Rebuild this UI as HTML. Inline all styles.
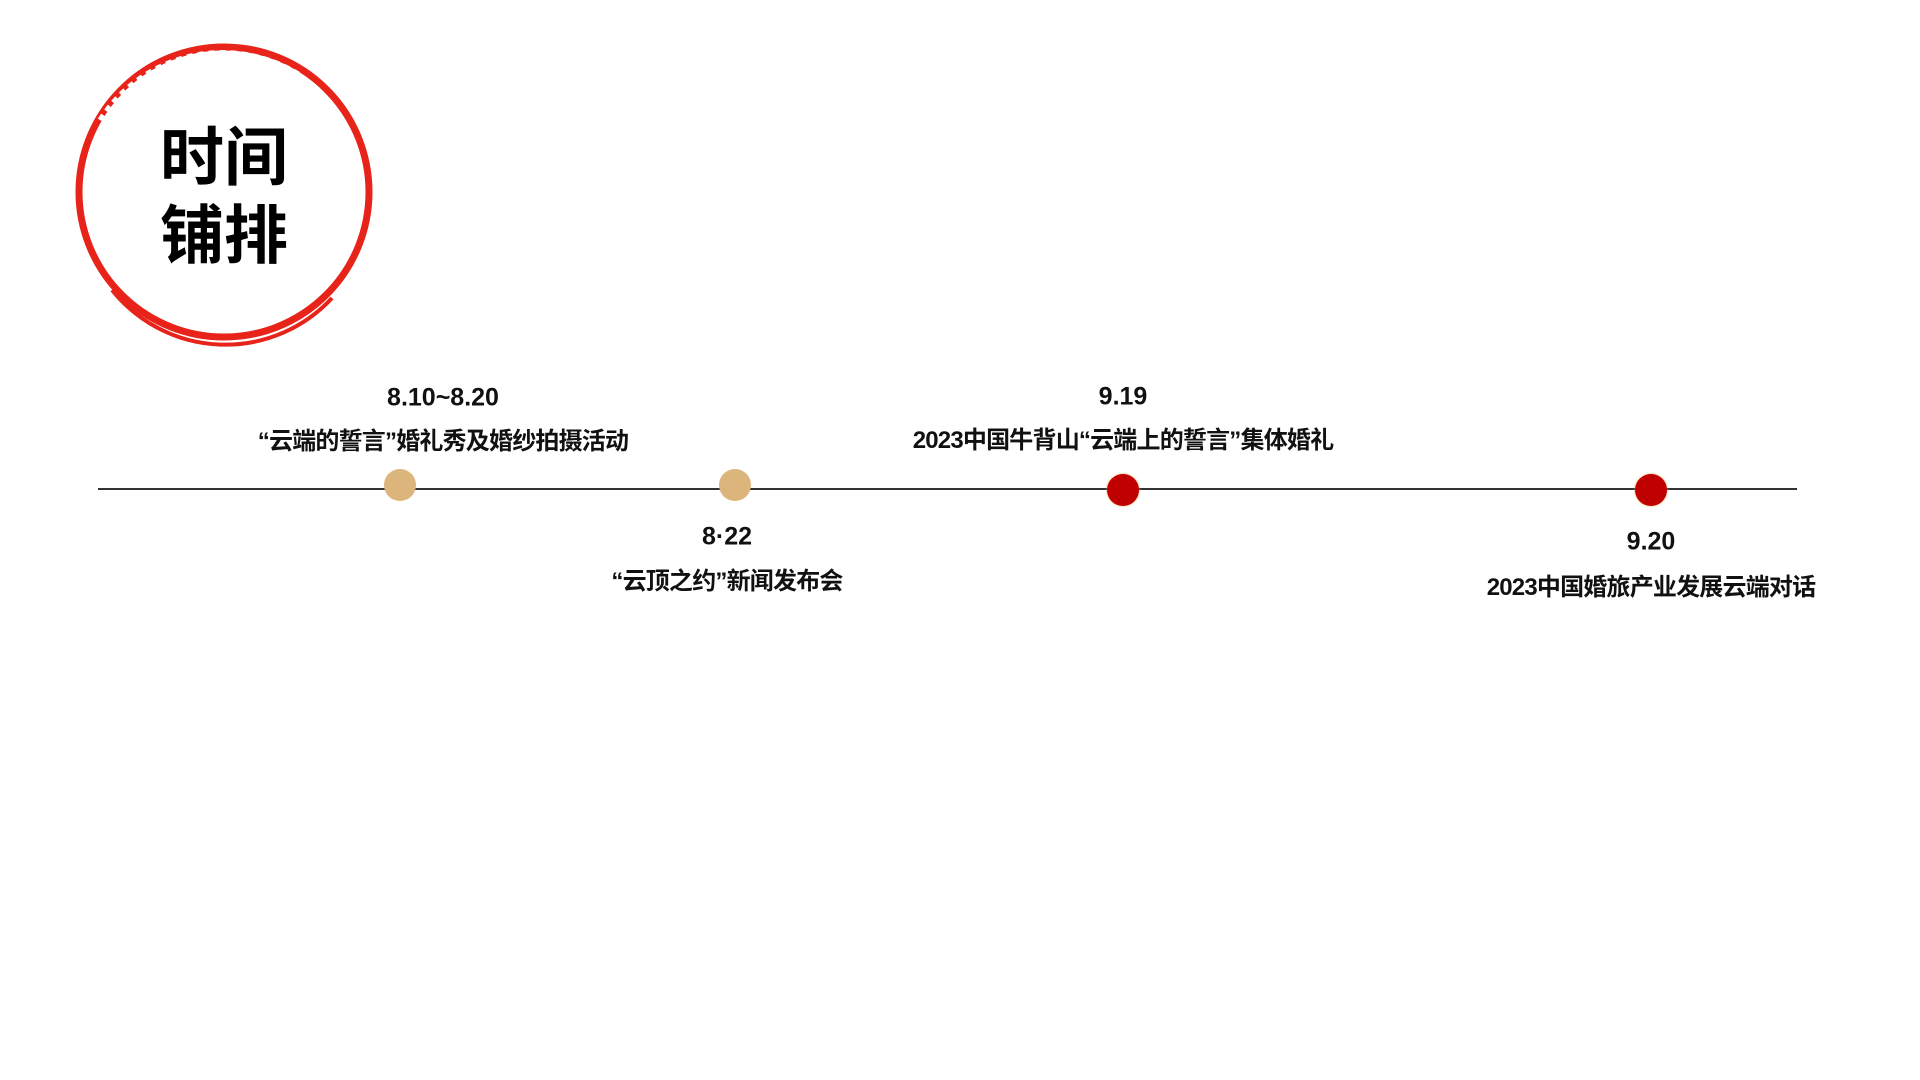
<!DOCTYPE html>
<html><head><meta charset="utf-8"><style>
body{margin:0;width:1920px;height:1080px;background:#fff;position:relative;overflow:hidden;font-family:"Liberation Sans","Noto Sans CJK SC",sans-serif;}
.t{position:absolute;transform:translate(-50%,-50%);white-space:nowrap;color:#111;line-height:1;}
.d{font-weight:bold;font-size:25px;}
.s{font-size:24px;letter-spacing:-0.8px;font-weight:bold;}
.dot{position:absolute;width:32px;height:32px;border-radius:50%;transform:translate(-50%,-50%);}
</style></head><body>
<svg width="1920" height="1080" style="position:absolute;left:0;top:0">
<circle cx="224" cy="192" r="145" fill="none" stroke="#e8231a" stroke-width="7"/>
<path d="M100 120 A145 145 0 0 1 300 75" fill="none" stroke="#fff" stroke-width="5" stroke-dasharray="6 5"/>
<path d="M112 290 A145 145 0 0 0 332 298" fill="none" stroke="#e8231a" stroke-width="4"/>
<line x1="98" y1="489" x2="1797" y2="489" stroke="#333" stroke-width="2"/>
</svg>
<div style="position:absolute;left:160px;top:114px;font-size:64px;font-weight:bold;line-height:78px;color:#000;font-family:'Noto Sans CJK SC',sans-serif;">时间<br>铺排</div>
<div class="dot" style="left:400px;top:485px;background:#dcb57c"></div>
<div class="dot" style="left:735px;top:485px;background:#dcb57c"></div>
<div class="dot" style="left:1123px;top:490px;background:#c00000;box-shadow:0 0 2px #f5a050"></div>
<div class="dot" style="left:1651px;top:490px;background:#c00000;box-shadow:0 0 2px #f5a050"></div>
<div class="t d" style="left:443px;top:398px">8.10~8.20</div>
<div class="t s" style="left:443px;top:442px">“云端的誓言”婚礼秀及婚纱拍摄活动</div>
<div class="t d" style="left:727px;top:537px">8·22</div>
<div class="t s" style="left:727px;top:582px">“云顶之约”新闻发布会</div>
<div class="t d" style="left:1123px;top:397px">9.19</div>
<div class="t s" style="left:1123px;top:441px">2023中国牛背山“云端上的誓言”集体婚礼</div>
<div class="t d" style="left:1651px;top:542px">9.20</div>
<div class="t s" style="left:1651px;top:588px">2023中国婚旅产业发展云端对话</div>
</body></html>
